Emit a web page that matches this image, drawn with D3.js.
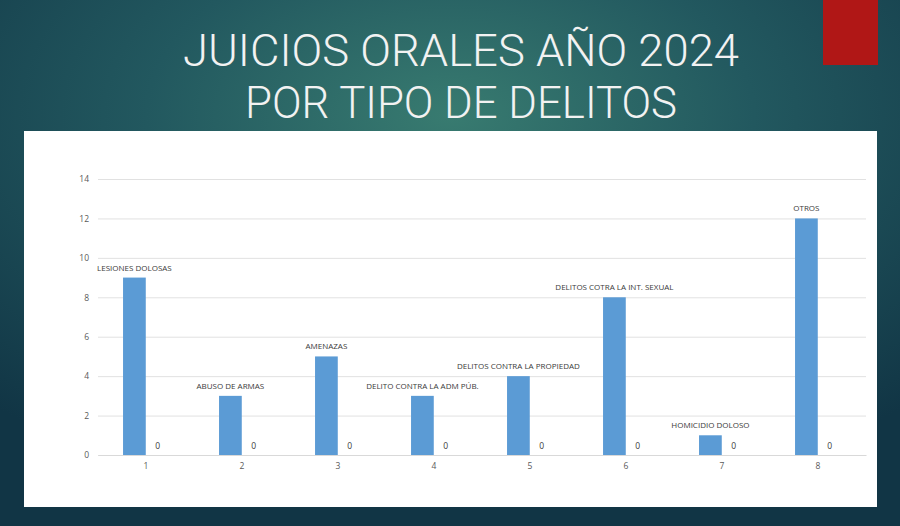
<!DOCTYPE html>
<html>
<head>
<meta charset="utf-8">
<script src="https://cdn.jsdelivr.net/npm/d3@7"></script>
<style>
	html, body { margin: 0; padding: 0; background: #163f4d; }
	svg { display: block; }
</style>
</head>
<body>
<div id="chart"></div>
<script>
var categories = ["1", "2", "3", "4", "5", "6", "7", "8"];
var delitos = ["LESIONES DOLOSAS", "ABUSO DE ARMAS", "AMENAZAS", "DELITO CONTRA LA ADM PÚB.",
	"DELITOS CONTRA LA PROPIEDAD", "DELITOS COTRA LA INT. SEXUAL", "HOMICIDIO DOLOSO", "OTROS"];
var juicios = [9, 3, 5, 3, 4, 8, 1, 12];
var serie2 = [0, 0, 0, 0, 0, 0, 0, 0];
var yTicks = [0, 2, 4, 6, 8, 10, 12, 14];
var titleLines = ["JUICIOS ORALES AÑO 2024", "POR TIPO DE DELITOS"];

(function() {
	"use strict";

	var W = 900, H = 526,
		panel = { x: 24, y: 131, w: 853, h: 376 },
		plot = { left: 98, right: 866, top: 179, bottom: 455 };

	var svg = d3.select("#chart").append("svg")
		.attr("width", W)
		.attr("height", H);

	// background gradient
	var defs = svg.append("defs");
	var grad = defs.append("radialGradient")
		.attr("id", "bg")
		.attr("cx", "0.5").attr("cy", "0.22").attr("r", "0.75")
		.attr("fx", "0.5").attr("fy", "0.22");
	grad.append("stop").attr("offset", "0%").attr("stop-color", "#387b70");
	grad.append("stop").attr("offset", "45%").attr("stop-color", "#22585f");
	grad.append("stop").attr("offset", "100%").attr("stop-color", "#113545");

	svg.append("rect")
		.attr("width", W).attr("height", H)
		.attr("fill", "url(#bg)");

	// red accent
	svg.append("rect")
		.attr("x", 823).attr("y", 0)
		.attr("width", 55).attr("height", 65)
		.attr("fill", "#b01716");

	// title
	svg.selectAll("text.title")
		.data(titleLines)
		.enter().append("text")
		.attr("class", "title")
		.attr("x", 461)
		.attr("y", function(d, i) { return 66 + i * 52; })
		.attr("text-anchor", "middle")
		.attr("textLength", function(d, i) { return i === 0 ? 556 : 432; })
		.attr("lengthAdjust", "spacingAndGlyphs")
		.style("font-family", "Roboto, 'Liberation Sans', sans-serif")
		.style("font-weight", 300)
		.style("font-size", "44px")
		.style("fill", "#f2f2f2")
		.text(function(d) { return d; });

	// white panel
	svg.append("rect")
		.attr("x", panel.x).attr("y", panel.y)
		.attr("width", panel.w).attr("height", panel.h)
		.attr("fill", "#ffffff");

	var x0 = d3.scaleBand()
		.domain(categories)
		.range([plot.left, plot.right])
		.padding(0);
	var x1 = d3.scaleBand()
		.domain(["juicios", "serie2"])
		.range([0, x0.bandwidth()])
		.paddingInner(0.02)
		.paddingOuter(1.08);
	var y = d3.scaleLinear()
		.domain([0, 14])
		.range([plot.bottom, plot.top]);

	var g = svg.append("g");

	// gridlines
	g.append("g")
		.attr("class", "grid")
		.attr("transform", "translate(" + plot.left + ",0)")
		.call(d3.axisLeft(y).tickValues(yTicks).tickSize(-(plot.right - plot.left)).tickFormat(""))
		.call(function(s) {
			s.select(".domain").remove();
			s.selectAll("line").attr("stroke", "#d9d9d9").attr("stroke-width", 0.8);
		});

	// y axis labels
	g.append("g")
		.attr("class", "axis axis-y")
		.attr("transform", "translate(" + (plot.left - 9) + ",0)")
		.call(d3.axisLeft(y).tickValues(yTicks).tickSize(0).tickPadding(0))
		.call(function(s) {
			s.select(".domain").remove();
			s.selectAll("text")
				.style("font-family", "'Open Sans', sans-serif")
				.style("font-size", "8.5px")
				.style("fill", "#595959");
		});

	// x axis
	g.append("g")
		.attr("class", "axis axis-x")
		.attr("transform", "translate(0," + plot.bottom + ")")
		.call(d3.axisBottom(x0).tickSize(0).tickPadding(8))
		.call(function(s) {
			s.select(".domain").attr("stroke", "#d9d9d9");
			s.selectAll("text")
				.style("font-family", "'Open Sans', sans-serif")
				.style("font-size", "8.5px")
				.style("fill", "#595959");
		});

	var rows = categories.map(function(c, i) {
		return { cat: c, delito: delitos[i], juicios: juicios[i], serie2: serie2[i] };
	});

	var grp = g.selectAll(".grp")
		.data(rows)
		.enter().append("g")
		.attr("class", "grp")
		.attr("transform", function(d) { return "translate(" + x0(d.cat) + ",0)"; });

	grp.append("rect")
		.attr("class", "bar")
		.attr("x", x1("juicios"))
		.attr("width", x1.bandwidth())
		.attr("y", function(d) { return y(d.juicios); })
		.attr("height", function(d) { return y(0) - y(d.juicios); })
		.attr("fill", "#5b9bd5");

	grp.append("text")
		.attr("x", x1("juicios") + x1.bandwidth() / 2)
		.attr("y", function(d) { return y(d.juicios) - 7; })
		.attr("text-anchor", "middle")
		.style("font-family", "'Open Sans', sans-serif")
		.style("font-size", "8px")
		.style("fill", "#3a3a3a")
		.text(function(d) { return d.delito; });

	grp.append("text")
		.attr("x", x1("serie2") + x1.bandwidth() / 2)
		.attr("y", function(d) { return y(d.serie2) - 6; })
		.attr("text-anchor", "middle")
		.style("font-family", "'Open Sans', sans-serif")
		.style("font-size", "8.5px")
		.style("fill", "#3a3a3a")
		.text(function(d) { return d.serie2; });
})();
</script>
</body>
</html>
